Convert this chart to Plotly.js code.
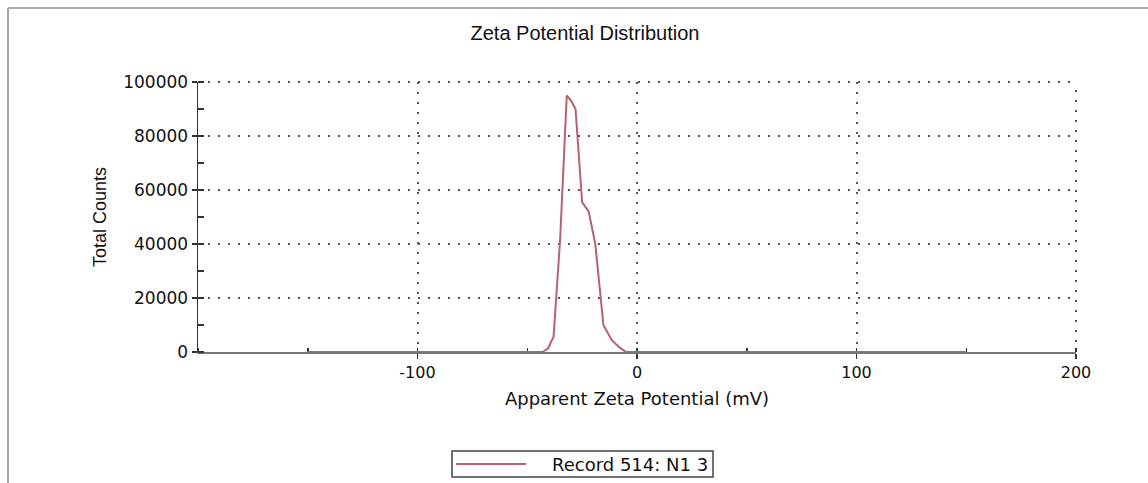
<!DOCTYPE html>
<html>
<head>
<meta charset="utf-8">
<script src="https://cdn.plot.ly/plotly-3.0.1.min.js"></script>
<style>html,body{margin:0;padding:0;background:#fff;}#chart{width:1148px;height:483px;}</style>
</head>
<body>
<div id="chart"></div>
<script>
// Data
const zetaMv = [-150, -43, -40.5, -38, -35, -32, -30, -28, -25, -22, -19, -15.3, -11.5, -7.7, -5, 150];
const totalCounts = [0, 0, 1400, 5700, 42000, 95000, 93000, 90000, 55500, 52000, 40000, 10000, 4400, 1500, 0, 0];
const seriesName = "Record 514: N1 3";
const xTickVals = [-100, 0, 100, 200];
const yTickVals = [0, 20000, 40000, 60000, 80000, 100000];

const L = 198, R = 1076, T = 82, B = 352, W = 1148, H = 483;
const pw = R - L, ph = B - T;
const px = x => (x - L) / pw;
const py = y => (B - y) / ph;

const font = "DejaVu Sans, Arial, sans-serif";
const sans = "Liberation Sans, Arial, sans-serif";
const lineColor = "#b5636c";
const gridDash = "2px,8px";

const trace = {
  x: zetaMv, y: totalCounts, type: "scatter", mode: "lines",
  name: seriesName, line: {color: lineColor, width: 2}, cliponaxis: false,
  showlegend: false
};

const layout = {
  width: W, height: H,
  margin: {l: L, r: W - R, t: T, b: H - B},
  paper_bgcolor: "#fff", plot_bgcolor: "#fff",
  title: {text: "Zeta Potential Distribution", x: px(585), xref: "paper", xanchor: "center",
          y: 1 - 33 / H, yanchor: "middle",
          font: {family: sans, size: 20, color: "#111"}},
  xaxis: {
    range: [-200, 200], tickvals: xTickVals, ticktext: xTickVals.map(String),
    layer: "below traces",
    showline: true, linecolor: "#777", linewidth: 2,
    ticks: "outside", ticklen: 5, tickcolor: "#333", tickwidth: 1.5,
    minor: {dtick: 50, tick0: 0, ticks: "inside", ticklen: 4, tickcolor: "#333", tickwidth: 1.5, showgrid: false},
    showgrid: true, gridcolor: "#555", gridwidth: 2, griddash: gridDash,
    zeroline: false,
    tickfont: {family: font, size: 16, color: "#111"},
    title: {text: "Apparent Zeta Potential (mV)", standoff: 11,
            font: {family: font, size: 18, color: "#111"}}
  },
  yaxis: {
    range: [0, 100000], tickvals: yTickVals, tickformat: "d",
    layer: "below traces",
    showline: true, linecolor: "#333", linewidth: 1.5,
    ticks: "outside", ticklen: 5, tickcolor: "#333", tickwidth: 1.5,
    minor: {dtick: 10000, tick0: 0, ticks: "inside", ticklen: 6, tickcolor: "#333", tickwidth: 1.5, showgrid: false},
    showgrid: true, gridcolor: "#555", gridwidth: 2, griddash: gridDash,
    zeroline: false,
    tickfont: {family: font, size: 17, color: "#111"},
    title: {text: "Total Counts", standoff: 12,
            font: {family: sans, size: 18, color: "#111"}}
  },
  showlegend: false,
  shapes: [
    // outer frame (left and top)
    {type: "line", xref: "paper", yref: "paper", x0: px(8), x1: px(8), y0: py(H), y1: py(8), line: {color: "#aaa", width: 2}},
    {type: "line", xref: "paper", yref: "paper", x0: px(8), x1: px(W), y0: py(8), y1: py(8), line: {color: "#aaa", width: 2}},
    // dotted grid at the top and right edges of the plot area
    {type: "line", xref: "paper", yref: "paper", x0: 0, x1: 1, y0: 1, y1: 1, layer: "below", line: {color: "#555", width: 2, dash: gridDash}},
    {type: "line", xref: "paper", yref: "paper", x0: 1, x1: 1, y0: 0, y1: 1, layer: "below", line: {color: "#555", width: 2, dash: gridDash}},
    // legend box
    {type: "rect", xref: "paper", yref: "paper", x0: px(452), x1: px(713), y0: py(451), y1: py(477),
     line: {color: "#444", width: 1.5}, fillcolor: "#fff"},
    {type: "line", xref: "paper", yref: "paper", x0: px(456), x1: px(526), y0: py(464), y1: py(464),
     line: {color: lineColor, width: 2}}
  ],
  annotations: [
    {xref: "paper", yref: "paper", x: px(710), y: py(464), xanchor: "right", yanchor: "middle",
     text: seriesName, showarrow: false, font: {family: font, size: 18, color: "#111"}}
  ]
};

Plotly.newPlot("chart", [trace], layout, {displayModeBar: false, staticPlot: true});
</script>
</body>
</html>
